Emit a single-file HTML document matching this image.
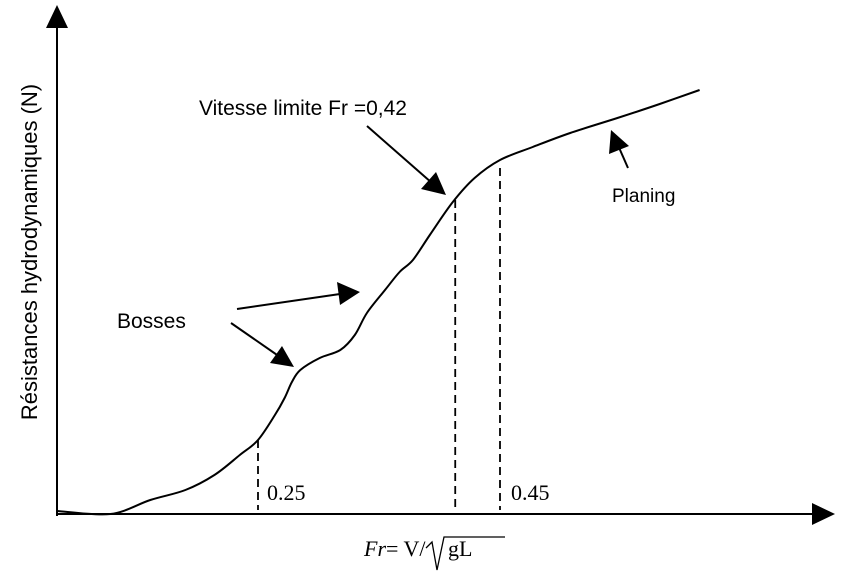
<!DOCTYPE html>
<html><head><meta charset="utf-8"><style>
html,body{margin:0;padding:0;background:#fff;width:850px;height:575px;overflow:hidden}
svg{display:block}
.s{font-family:"Liberation Sans",sans-serif;fill:#000}
.r{font-family:"Liberation Serif",serif;fill:#000}
</style></head><body>
<svg id="chart" width="850" height="575" viewBox="0 0 850 575">
<rect x="0" y="0" width="850" height="575" fill="#fff"/>
<g id="axes">
<line x1="57" y1="516" x2="57" y2="20" stroke="#000" stroke-width="2"/>
<polygon points="57,5 46,28 68,28" fill="#000"/>
<line x1="57" y1="514" x2="815" y2="514" stroke="#000" stroke-width="2"/>
<polygon points="835,514 812,503 812,525" fill="#000"/>
</g>
<text class="s" font-size="22" transform="translate(37,252) rotate(-90)" text-anchor="middle">Résistances hydrodynamiques (N)</text>
<text class="r" font-size="22" x="364" y="556"><tspan font-style="italic">Fr</tspan>= V/</text>
<path d="M426,548 L432,542 L437,570 L444,537 L505,537" fill="none" stroke="#000" stroke-width="1.3"/>
<text class="r" font-size="22" x="448" y="556">gL</text>
<g id="marks"></g>
<g id="annot">
<text class="s" font-size="21" x="199" y="115">Vitesse limite Fr =0,42</text>
<text class="s" font-size="21" x="117" y="328">Bosses</text>
<text class="s" font-size="19" x="612" y="202">Planing</text>
<text class="r" font-size="22" x="267" y="500">0.25</text>
<text class="r" font-size="22" x="511" y="500">0.45</text>
<line x1="237" y1="309" x2="340" y2="294" stroke="#000" stroke-width="2"/>
<polygon points="360,292 337,282 340,305" fill="#000"/>
<line x1="231" y1="323" x2="280" y2="357" stroke="#000" stroke-width="2"/>
<polygon points="294,367 282,346 270,363" fill="#000"/>
<line x1="367" y1="126" x2="432" y2="183" stroke="#000" stroke-width="2"/>
<polygon points="446,195 436,172 421,189" fill="#000"/>
<line x1="628" y1="168" x2="617" y2="143" stroke="#000" stroke-width="2"/>
<polygon points="611,130 609,154 629,146" fill="#000"/>
</g>
</svg>
<script>
const frValues=[0.084,0.128,0.161,0.190,0.214,0.235,0.250,0.264,0.272,0.278,0.285,0.301,0.318,0.330,0.340,0.355,0.367,0.378,0.392,0.411,0.429,0.450,0.477,0.508,0.547,0.582,0.615];
const resistance=[0.75,0,3.5,6,9.75,14.75,18.5,24.75,29,33,36,39,41,44.75,50.25,56,60.5,63.5,69.75,78,84,88.5,91.75,95.25,99,102.5,106];
const dashedFr=[0.25,0.413,0.45];
const dashedTop=[18.5,78.5,86.5];
const xs=v=>258+(v-0.25)*1210;
const ys=v=>514-v*4;
const ns='http://www.w3.org/2000/svg';
const g=document.getElementById('marks');
const pts=frValues.map((f,i)=>[xs(f),ys(resistance[i])]);
let d='M'+pts[0][0].toFixed(1)+','+pts[0][1].toFixed(1);
for(let i=0;i<pts.length-1;i++){
const p0=pts[Math.max(0,i-1)],p1=pts[i],p2=pts[i+1],p3=pts[Math.min(pts.length-1,i+2)];
const c1=[p1[0]+(p2[0]-p0[0])/6,p1[1]+(p2[1]-p0[1])/6];
const c2=[p2[0]-(p3[0]-p1[0])/6,p2[1]-(p3[1]-p1[1])/6];
d+=' C'+c1[0].toFixed(1)+','+c1[1].toFixed(1)+' '+c2[0].toFixed(1)+','+c2[1].toFixed(1)+' '+p2[0].toFixed(1)+','+p2[1].toFixed(1);
}
const p=document.createElementNS(ns,'path');
p.setAttribute('d',d);p.setAttribute('fill','none');p.setAttribute('stroke','#000');p.setAttribute('stroke-width','2');p.setAttribute('stroke-linejoin','round');


g.appendChild(p);
dashedFr.forEach((f,i)=>{
const l=document.createElementNS(ns,'line');
l.setAttribute('x1',xs(f));l.setAttribute('x2',xs(f));l.setAttribute('y1',ys(dashedTop[i]));l.setAttribute('y2',510);
l.setAttribute('stroke','#000');l.setAttribute('stroke-width','1.8');l.setAttribute('stroke-dasharray','8,5');


g.appendChild(l);
});
</script>
</body></html>
